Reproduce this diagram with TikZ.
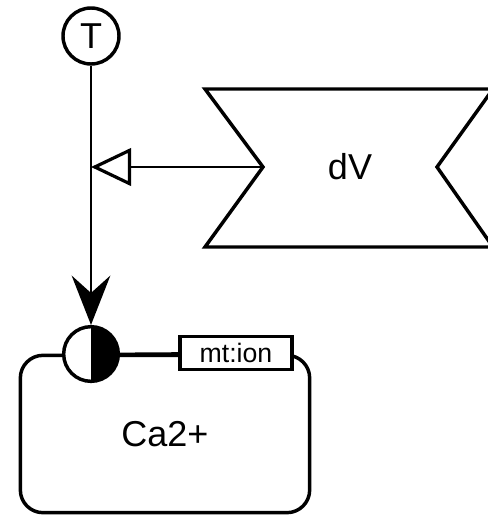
\documentclass[tikz,border=0pt]{standalone}
\usepackage{fontspec}
\setmainfont{Liberation Sans}
\usetikzlibrary{arrows.meta,positioning,calc}
\tikzset{
  link/.style={line width=1.8pt, draw=black},
  boxline/.style={line width=2.6pt, draw=black},
  bigtext/.style={font=\fontsize{27}{32}\selectfont},
  pool/.style={boxline, bigtext, rounded corners=17pt, fill=white,
               minimum width=217pt, minimum height=118pt},
  tag/.style={boxline, fill=white, minimum width=84pt, minimum height=25pt,
              inner sep=0pt, font=\fontsize{20}{24}\selectfont},
  sensor/.style={boxline, bigtext, circle, fill=white, minimum size=42pt, inner sep=0pt},
  gate/.style={boxline, circle, fill=white, minimum size=41pt, inner sep=0pt,
               path picture={\fill[black] (path picture bounding box.north)
                 rectangle (path picture bounding box.south east);}},
  stim/.style={boxline, line join=miter},
  readout/.style={link, -{Stealth[length=37pt, width=29pt, inset=13pt]}},
  mod/.style={link, -{Triangle[length=30pt, width=28pt, fill=white, line width=2.4pt]}},
}

\begin{document}
\begin{tikzpicture}[x=0.75pt,y=-0.75pt]
    \useasboundingbox (0,0) rectangle (488,517);
    \node[pool] (ca) at (165,434) {Ca2+};
    \node[sensor] (temp) at (91,36) {T};
    \node[gate] (gate) at (91,354) {};
    \node[tag] (ion) at (236,353) {mt:ion};
    \draw[stim] (205,89) -- (493,89) -- (437,167) -- (493,247) -- (205,247) -- (263,167) -- cycle;
    \node[bigtext] (dv) at (350,167) {dV};
    \coordinate (dvin) at (263,167);
    \coordinate (join) at (91,167);
    \draw[readout] (temp) -- (gate);
    \draw[mod] (dvin) -- (join);
    \draw[link] (gate) -- (ion);
  \end{tikzpicture}
\end{document}
